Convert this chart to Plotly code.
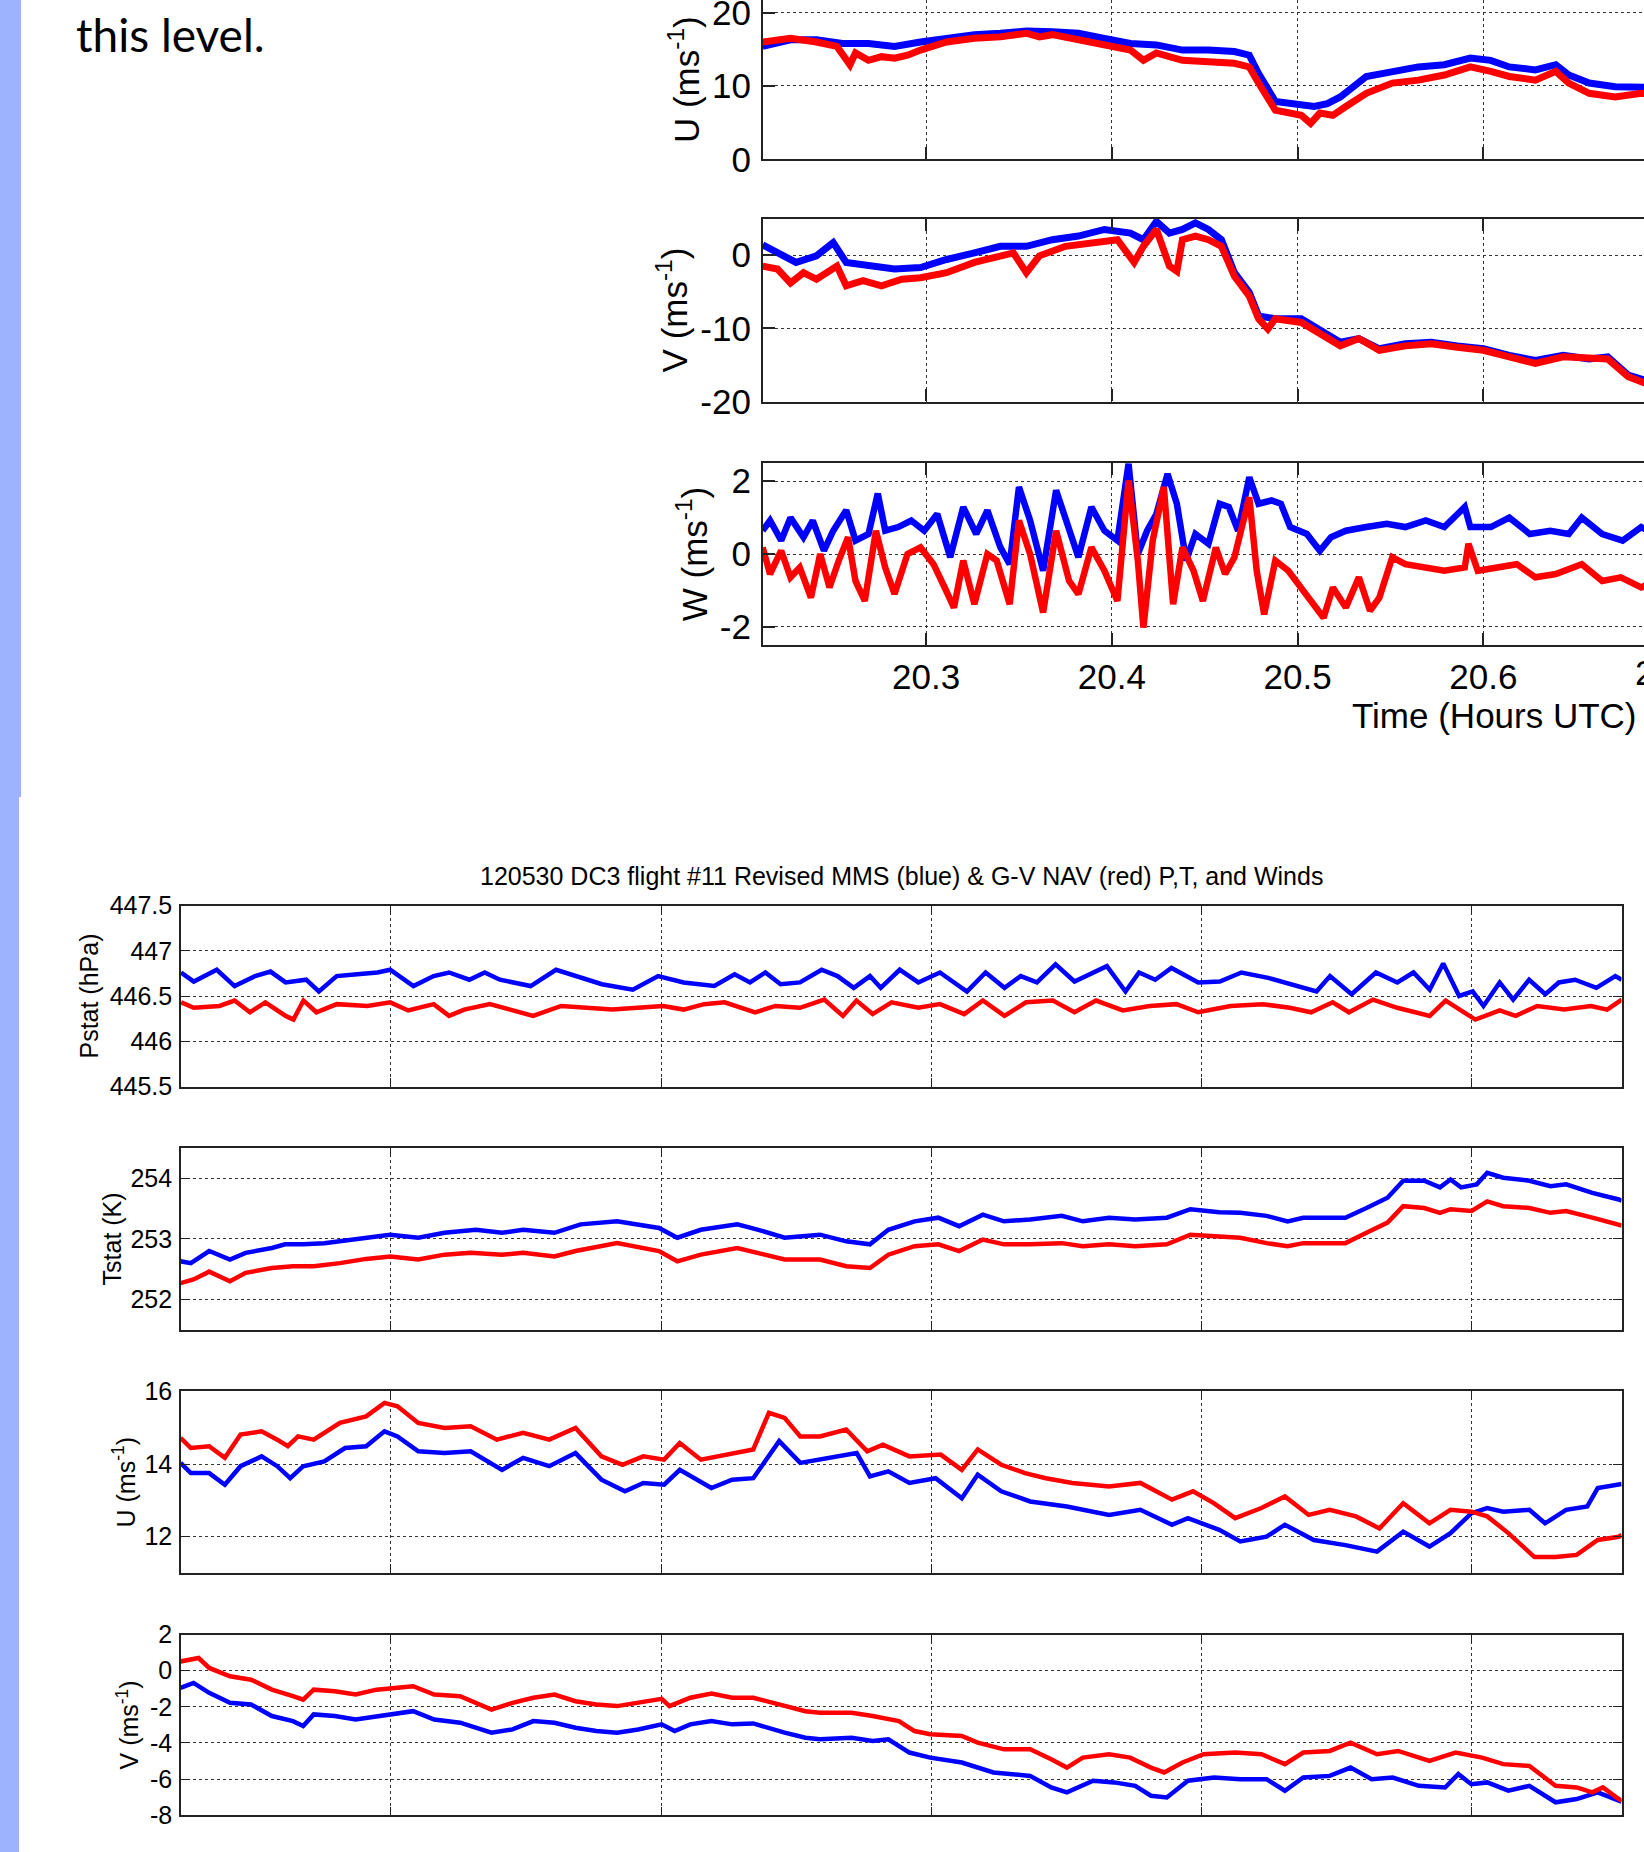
import plotly.graph_objects as go

# ---------------- Top chart (time in hours UTC) ----------------
top_u_blue_t = [20.212,20.227,20.241,20.255,20.269,20.283,20.297,20.311,20.326,20.340,20.354,20.368,20.382,20.396,20.410,20.424,20.438,20.452,20.466,20.474,20.479,20.488,20.502,20.509,20.516,20.523,20.537,20.551,20.565,20.579,20.593,20.604,20.614,20.628,20.639,20.646,20.657,20.671,20.685,20.690]
top_u_blue = [15.4,16.3,16.3,15.8,15.8,15.4,16.0,16.5,17.0,17.2,17.5,17.4,17.2,16.5,15.8,15.6,14.9,14.9,14.7,14.2,11.7,7.9,7.4,7.2,7.6,8.5,11.3,12.0,12.6,12.9,13.8,13.5,12.6,12.2,12.9,11.5,10.4,9.9,9.9,9.8]

top_u_red_t = [20.212,20.227,20.241,20.252,20.259,20.262,20.269,20.276,20.283,20.290,20.297,20.304,20.311,20.326,20.340,20.354,20.361,20.368,20.382,20.396,20.403,20.410,20.417,20.424,20.438,20.445,20.452,20.466,20.474,20.479,20.488,20.502,20.507,20.512,20.519,20.526,20.537,20.551,20.565,20.579,20.593,20.604,20.614,20.628,20.639,20.646,20.657,20.671,20.685,20.690]
top_u_red = [16.0,16.5,16.0,15.4,12.9,14.5,13.5,14.0,13.8,14.2,14.9,15.4,16.0,16.5,16.7,17.2,16.7,17.0,16.3,15.6,15.2,14.9,13.5,14.5,13.5,13.5,13.3,13.1,12.6,10.4,6.7,6.0,4.9,6.3,6.0,7.2,9.0,10.4,10.8,11.5,12.6,12.0,11.3,10.8,12.0,10.4,9.0,8.5,9.0,8.9]

top_v_blue_t = [20.212,20.220,20.230,20.241,20.250,20.257,20.269,20.283,20.297,20.311,20.326,20.340,20.354,20.368,20.382,20.396,20.410,20.417,20.424,20.431,20.438,20.445,20.452,20.459,20.466,20.474,20.479,20.488,20.502,20.516,20.523,20.533,20.544,20.558,20.572,20.586,20.600,20.614,20.628,20.643,20.657,20.667,20.678,20.690]
top_v_blue = [1.4,0.3,-1.0,-0.1,1.7,-1.0,-1.5,-1.9,-1.7,-0.6,0.3,1.2,1.2,2.1,2.6,3.5,3.0,2.1,4.6,3.0,3.5,4.4,3.5,2.1,-2.4,-5.1,-8.3,-8.7,-8.7,-11.0,-11.9,-11.4,-12.8,-12.1,-11.9,-12.4,-12.8,-13.7,-14.4,-13.7,-14.2,-13.9,-16.4,-17.3]

top_v_red_t = [20.212,20.220,20.227,20.234,20.241,20.252,20.257,20.266,20.276,20.287,20.297,20.311,20.326,20.340,20.347,20.354,20.361,20.375,20.389,20.403,20.412,20.417,20.424,20.431,20.435,20.438,20.445,20.452,20.459,20.466,20.474,20.479,20.484,20.488,20.502,20.516,20.523,20.533,20.544,20.558,20.572,20.586,20.600,20.614,20.628,20.643,20.657,20.667,20.678,20.690]
top_v_red = [-1.5,-1.9,-3.8,-2.4,-3.3,-1.5,-4.2,-3.5,-4.2,-3.3,-3.1,-2.4,-1.0,-0.1,0.3,-2.4,-0.1,1.2,1.7,2.1,-1.0,1.2,3.5,-1.5,-2.2,2.1,2.6,2.1,1.2,-2.9,-5.6,-8.7,-10.1,-8.7,-9.2,-11.4,-12.4,-11.4,-13.0,-12.4,-12.1,-12.6,-13.0,-13.9,-14.8,-13.9,-14.2,-14.2,-16.6,-17.8]

top_w_blue_t = [20.212,20.216,20.222,20.227,20.234,20.239,20.245,20.250,20.257,20.262,20.269,20.274,20.278,20.285,20.292,20.299,20.306,20.313,20.320,20.327,20.333,20.340,20.345,20.350,20.356,20.363,20.370,20.377,20.382,20.389,20.396,20.403,20.409,20.414,20.419,20.424,20.430,20.435,20.440,20.445,20.452,20.458,20.463,20.468,20.474,20.479,20.486,20.491,20.496,20.505,20.512,20.518,20.526,20.537,20.548,20.558,20.569,20.579,20.590,20.593,20.604,20.614,20.625,20.636,20.646,20.653,20.664,20.675,20.685,20.690]
top_w_blue = [0.64,0.92,0.37,1.0,0.46,0.92,0.09,0.64,1.2,0.37,0.55,1.66,0.64,0.74,0.92,0.64,1.10,-0.09,1.29,0.55,1.20,0.18,-0.28,1.84,0.92,-0.46,1.75,0.64,-0.09,1.29,0.64,0.37,2.48,0.0,0.64,1.10,2.2,1.38,-0.18,0.55,0.28,1.38,1.29,0.64,2.11,1.38,1.47,1.38,0.74,0.55,0.09,0.46,0.64,0.74,0.83,0.74,0.92,0.74,1.29,0.74,0.74,1.0,0.55,0.64,0.55,1.0,0.55,0.37,0.74,0.6]

top_w_red_t = [20.212,20.216,20.222,20.227,20.232,20.238,20.243,20.248,20.253,20.258,20.262,20.267,20.273,20.278,20.283,20.290,20.297,20.304,20.310,20.315,20.320,20.326,20.333,20.338,20.345,20.350,20.356,20.363,20.370,20.377,20.382,20.389,20.396,20.403,20.409,20.414,20.417,20.422,20.428,20.433,20.438,20.444,20.449,20.456,20.461,20.466,20.474,20.478,20.482,20.488,20.495,20.502,20.509,20.514,20.519,20.526,20.533,20.539,20.544,20.551,20.558,20.569,20.579,20.590,20.592,20.597,20.607,20.618,20.628,20.639,20.653,20.664,20.674,20.685,20.690]
top_w_red = [0.18,-0.55,0.09,-0.64,-0.37,-1.2,0.0,-0.92,-0.18,0.46,-0.74,-1.29,0.64,-0.37,-1.1,0.0,0.18,-0.28,-0.92,-1.47,-0.18,-1.38,0.0,-0.18,-1.38,0.92,0.0,-1.61,0.64,-0.74,-1.1,0.18,-0.46,-1.29,2.02,-0.18,-2.02,0.37,1.84,-1.38,0.18,-0.46,-1.29,0.18,-0.55,-0.09,1.56,-0.46,-1.66,-0.18,-0.46,-0.92,-1.38,-1.75,-0.92,-1.47,-0.64,-1.56,-1.2,-0.09,-0.28,-0.37,-0.46,-0.37,0.28,-0.46,-0.37,-0.28,-0.64,-0.55,-0.28,-0.74,-0.64,-0.92,-0.8]

top_x_ticks = [20.3, 20.4, 20.5, 20.6]

# ---------------- Bottom chart (time, grid units) ----------------
p_blue_t = [0.223,0.270,0.355,0.421,0.497,0.554,0.610,0.686,0.733,0.799,0.875,0.950,0.997,1.083,1.158,1.215,1.290,1.347,1.403,1.517,1.611,1.687,1.781,1.895,1.989,2.083,2.197,2.272,2.329,2.386,2.442,
            2.514,2.594,2.653,2.713,2.773,2.813,2.883,2.952,3.032,3.132,3.201,3.271,3.331,3.391,3.460,3.530,3.650,3.719,3.769,3.829,3.889,3.988,4.068,4.148,4.247,4.347,4.426,4.476,4.556,4.646,4.725,4.785,4.845,4.895,4.954,5.004,5.044,5.104,5.154,5.213,5.273,5.323,5.383,5.462,5.532,5.556]
p_blue = [446.76,446.66,446.79,446.61,446.72,446.77,446.65,446.68,446.55,446.72,446.74,446.76,446.79,446.61,446.72,446.76,446.68,446.76,446.68,446.61,446.79,446.72,446.63,446.57,446.72,446.65,446.61,446.74,446.65,446.76,446.63,
          446.65,446.79,446.72,446.59,446.72,446.59,446.79,446.65,446.76,446.55,446.76,446.59,446.72,446.65,446.85,446.66,446.83,446.55,446.76,446.68,446.81,446.65,446.66,446.76,446.70,446.61,446.55,446.72,446.52,446.76,446.65,446.76,446.57,446.86,446.50,446.55,446.39,446.65,446.46,446.68,446.52,446.65,446.68,446.59,446.72,446.68]

p_red_t = [0.223,0.270,0.365,0.421,0.478,0.535,0.610,0.639,0.676,0.724,0.799,0.913,0.997,1.064,1.158,1.215,1.271,1.366,1.441,1.526,1.630,1.743,1.819,1.913,2.008,2.083,2.159,2.235,2.291,2.348,2.423,
           2.514,2.604,2.673,2.723,2.783,2.853,2.952,3.032,3.122,3.191,3.271,3.351,3.450,3.530,3.610,3.709,3.809,3.908,3.988,4.108,4.227,4.327,4.406,4.486,4.546,4.635,4.725,4.845,4.904,5.014,5.104,5.163,5.243,5.343,5.442,5.502,5.556]
p_red = [446.43,446.37,446.39,446.45,446.32,446.43,446.28,446.24,446.45,446.32,446.41,446.39,446.43,446.34,446.41,446.28,446.35,446.41,446.35,446.28,446.39,446.37,446.35,446.37,446.39,446.35,446.41,446.43,446.37,446.32,446.39,
         446.37,446.46,446.28,446.45,446.30,446.43,446.37,446.41,446.30,446.45,446.28,446.43,446.45,446.32,446.45,446.34,446.39,446.41,446.32,446.39,446.41,446.37,446.32,446.43,446.32,446.46,446.37,446.28,446.45,446.24,446.34,446.28,446.39,446.35,446.39,446.35,446.46]

t_blue_t = [0.221,0.259,0.327,0.404,0.462,0.559,0.608,0.675,0.753,0.869,0.997,1.101,1.198,1.314,1.411,1.489,1.605,1.702,1.837,1.992,2.060,2.147,2.282,2.360,2.457,
            2.588,2.685,2.773,2.841,2.938,3.026,3.103,3.191,3.269,3.366,3.483,3.561,3.658,3.755,3.872,3.959,4.066,4.144,4.241,4.319,4.377,4.533,4.611,4.689,4.747,4.825,4.883,4.922,4.961,5.019,5.058,5.117,5.214,5.292,5.350,5.447,5.545,5.556]
t_blue = [252.63,252.60,252.80,252.66,252.77,252.85,252.91,252.91,252.93,252.99,253.07,253.02,253.10,253.15,253.10,253.15,253.10,253.24,253.29,253.18,253.02,253.15,253.24,253.15,253.02,
          253.07,252.96,252.91,253.15,253.29,253.35,253.21,253.40,253.29,253.32,253.38,253.29,253.35,253.32,253.35,253.49,253.44,253.43,253.38,253.29,253.35,253.35,253.51,253.68,253.96,253.96,253.85,253.98,253.85,253.90,254.09,254.01,253.96,253.87,253.90,253.76,253.65,253.63]

t_red_t = [0.221,0.269,0.327,0.404,0.462,0.559,0.637,0.714,0.811,0.908,0.997,1.101,1.198,1.295,1.411,1.489,1.605,1.683,1.837,1.992,2.060,2.147,2.282,2.360,2.457,
           2.588,2.685,2.773,2.841,2.938,3.026,3.103,3.191,3.269,3.366,3.483,3.561,3.658,3.755,3.872,3.959,4.066,4.144,4.241,4.319,4.377,4.533,4.611,4.689,4.747,4.825,4.883,4.922,5.000,5.058,5.117,5.214,5.292,5.350,5.447,5.545,5.556]
t_red = [252.27,252.33,252.46,252.30,252.44,252.52,252.55,252.55,252.60,252.67,252.71,252.66,252.74,252.77,252.74,252.77,252.71,252.80,252.93,252.80,252.63,252.74,252.85,252.77,252.66,
         252.66,252.55,252.52,252.74,252.88,252.91,252.80,252.99,252.91,252.91,252.93,252.88,252.91,252.88,252.91,253.07,253.04,253.02,252.93,252.88,252.93,252.93,253.10,253.27,253.54,253.51,253.43,253.49,253.46,253.62,253.54,253.51,253.43,253.46,253.35,253.24,253.22]

u_blue_t = [0.221,0.259,0.327,0.385,0.443,0.521,0.579,0.627,0.675,0.753,0.830,0.908,0.976,1.024,1.101,1.198,1.295,1.411,1.489,1.586,1.683,1.779,1.866,1.934,2.011,2.069,2.186,2.263,2.341,2.437,2.515,
            2.588,2.685,2.724,2.773,2.841,2.919,3.016,3.113,3.172,3.259,3.366,3.502,3.658,3.774,3.891,3.950,4.066,4.144,4.241,4.309,4.416,4.533,4.650,4.747,4.844,4.922,5.000,5.058,5.117,5.214,5.272,5.350,5.428,5.467,5.545,5.556]
u_blue = [14.03,13.75,13.75,13.43,13.94,14.21,13.94,13.61,13.94,14.07,14.44,14.49,14.90,14.76,14.35,14.30,14.35,13.84,14.17,13.94,14.30,13.57,13.25,13.48,13.43,13.84,13.34,13.57,13.61,14.63,14.03,
          14.12,14.26,14.30,13.66,13.80,13.48,13.61,13.06,13.71,13.25,12.97,12.83,12.60,12.74,12.33,12.51,12.19,11.87,12.00,12.33,11.91,11.77,11.59,12.14,11.73,12.10,12.65,12.79,12.69,12.74,12.37,12.74,12.83,13.34,13.43,13.45]

u_red_t = [0.221,0.259,0.327,0.385,0.443,0.521,0.579,0.618,0.656,0.714,0.811,0.908,0.976,1.024,1.101,1.198,1.295,1.392,1.489,1.586,1.683,1.779,1.857,1.934,2.011,2.069,2.147,2.263,2.341,2.399,2.457,2.515,
           2.588,2.685,2.763,2.821,2.919,3.035,3.113,3.172,3.259,3.347,3.424,3.522,3.658,3.774,3.891,3.969,4.047,4.125,4.222,4.309,4.397,4.475,4.572,4.659,4.747,4.844,4.922,5.000,5.058,5.136,5.233,5.311,5.389,5.467,5.545,5.556]
u_red = [14.72,14.44,14.49,14.17,14.81,14.90,14.67,14.49,14.76,14.67,15.13,15.31,15.68,15.59,15.13,14.99,15.04,14.67,14.86,14.67,14.99,14.21,13.98,14.21,14.12,14.58,14.12,14.30,14.40,15.41,15.27,14.76,
         14.76,14.95,14.35,14.53,14.21,14.26,13.84,14.40,13.98,13.75,13.61,13.48,13.38,13.48,13.02,13.25,12.92,12.51,12.79,13.11,12.60,12.74,12.56,12.23,12.92,12.37,12.74,12.69,12.56,12.10,11.44,11.44,11.50,11.91,12.00,12.05]

v_blue_t = [0.221,0.269,0.327,0.404,0.482,0.559,0.637,0.675,0.714,0.792,0.869,0.947,1.024,1.082,1.160,1.256,1.372,1.450,1.527,1.605,1.683,1.760,1.837,1.915,2.002,2.050,2.108,2.186,2.263,2.341,2.457,2.534,
            2.588,2.705,2.783,2.841,2.919,2.996,3.113,3.230,3.366,3.444,3.502,3.599,3.677,3.755,3.813,3.872,3.950,4.047,4.144,4.241,4.309,4.377,4.475,4.552,4.630,4.708,4.805,4.902,4.951,4.999,5.058,5.136,5.214,5.311,5.389,5.467,5.545,5.556]
v_blue = [-0.95,-0.68,-1.23,-1.78,-1.87,-2.51,-2.79,-3.06,-2.42,-2.51,-2.70,-2.51,-2.33,-2.24,-2.70,-2.88,-3.43,-3.25,-2.79,-2.88,-3.16,-3.34,-3.43,-3.25,-2.97,-3.34,-2.97,-2.79,-2.97,-2.92,-3.43,-3.71,
          -3.80,-3.71,-3.89,-3.80,-4.53,-4.81,-5.08,-5.63,-5.82,-6.46,-6.73,-6.09,-6.18,-6.37,-6.92,-7.01,-6.09,-5.91,-6.00,-6.00,-6.64,-5.91,-5.82,-5.36,-6.00,-5.91,-6.37,-6.46,-5.72,-6.28,-6.18,-6.64,-6.37,-7.28,-7.10,-6.73,-7.19,-7.25]

v_red_t = [0.221,0.288,0.327,0.404,0.482,0.521,0.559,0.637,0.675,0.714,0.792,0.869,0.947,1.024,1.082,1.160,1.256,1.372,1.450,1.527,1.605,1.683,1.760,1.837,1.915,2.002,2.031,2.108,2.186,2.263,2.341,2.457,2.534,
           2.588,2.705,2.783,2.880,2.938,2.996,3.113,3.172,3.269,3.366,3.444,3.502,3.561,3.658,3.736,3.813,3.862,3.930,4.008,4.125,4.222,4.309,4.377,4.475,4.552,4.650,4.728,4.844,4.941,5.039,5.117,5.214,5.311,5.389,5.447,5.486,5.545,5.556]
v_red = [0.51,0.70,0.15,-0.31,-0.50,-0.77,-1.05,-1.41,-1.60,-1.05,-1.14,-1.32,-1.05,-0.95,-0.86,-1.32,-1.41,-2.15,-1.78,-1.50,-1.32,-1.69,-1.87,-1.96,-1.78,-1.56,-1.96,-1.50,-1.27,-1.50,-1.50,-1.96,-2.24,
         -2.33,-2.33,-2.51,-2.79,-3.34,-3.52,-3.61,-3.98,-4.35,-4.35,-4.90,-5.36,-4.81,-4.62,-4.81,-5.36,-5.63,-5.08,-4.62,-4.53,-4.62,-5.17,-4.53,-4.44,-3.98,-4.62,-4.44,-4.99,-4.53,-4.81,-5.17,-5.27,-6.37,-6.46,-6.73,-6.46,-7.10,-7.20]

bottom_x_ticks = [1, 2, 3, 4, 5]
title_text = "120530 DC3 flight #11 Revised MMS (blue) & G-V NAV (red) P,T, and Winds"

BLUE = "#0000ff"
RED = "#ff0000"
FONT = "Liberation Sans, Arial, Helvetica, sans-serif"
H = 1852.0
W = 1644.0

fig = go.Figure()

panels = [
    (1, top_u_blue_t, top_u_blue, top_u_red_t, top_u_red, 7),
    (2, top_v_blue_t, top_v_blue, top_v_red_t, top_v_red, 7),
    (3, top_w_blue_t, top_w_blue, top_w_red_t, top_w_red, 6.5),
    (4, p_blue_t, p_blue, p_red_t, p_red, 4.5),
    (5, t_blue_t, t_blue, t_red_t, t_red, 4.5),
    (6, u_blue_t, u_blue, u_red_t, u_red, 4.5),
    (7, v_blue_t, v_blue, v_red_t, v_red, 4.5),
]
for idx, bt, bv, rt, rv, lw in panels:
    ax = "" if idx == 1 else str(idx)
    fig.add_trace(go.Scatter(x=bt, y=bv, mode="lines", line=dict(color=BLUE, width=lw),
                             xaxis="x" + ax, yaxis="y" + ax, showlegend=False, hoverinfo="skip"))
    fig.add_trace(go.Scatter(x=rt, y=rv, mode="lines", line=dict(color=RED, width=lw),
                             xaxis="x" + ax, yaxis="y" + ax, showlegend=False, hoverinfo="skip"))

def pyd(top_px, bot_px):
    return [1 - bot_px / H, 1 - top_px / H]

top_xdom = [763 / W, 1.0]
bot_xdom = [181 / W, 1621.5 / W]
top_xrange = [20.2122, 20.6865]
bot_xrange = [0.2227, 5.555]

grid = dict(showgrid=True, gridcolor="#333", griddash="dot", gridwidth=1, zeroline=False)

def xaxis(dom, rng, tv, anchor, mirror, labels, lw, tl, fs):
    return dict(domain=dom, range=rng, tickmode="array", tickvals=tv, anchor=anchor,
                showline=True, linecolor="#222", linewidth=lw, mirror=mirror,
                ticks="inside", ticklen=tl, tickwidth=lw * 0.8, tickcolor="#222",
                showticklabels=labels, tickfont=dict(family=FONT, size=fs, color="black"),
                ticklabeloverflow="allow",
                automargin=False, fixedrange=True, **grid)

def yaxis(dom, rng, tv, tt, anchor, mirror, lw, tl, fs, title, standoff, tso):
    return dict(domain=dom, range=rng, tickmode="array", tickvals=tv, ticktext=tt, anchor=anchor,
                showline=True, linecolor="#222", linewidth=lw, mirror=mirror,
                ticks="inside", ticklen=tl, tickwidth=lw * 0.8, tickcolor="#222",
                ticklabelstandoff=tso, ticklabeloverflow="allow",
                tickfont=dict(family=FONT, size=fs, color="black"),
                title=dict(text=title, font=dict(family=FONT, size=fs, color="black"), standoff=standoff),
                automargin=False, fixedrange=True, **grid)

TFS = 35
BFS = 25
layout = dict(
    width=1644, height=1852, autosize=False, paper_bgcolor="white", plot_bgcolor="white",
    margin=dict(l=0, r=0, t=0, b=0, pad=0, autoexpand=False), showlegend=False,
    xaxis=xaxis(top_xdom, top_xrange, top_x_ticks, "y", False, False, 2.2, 12, TFS),
    yaxis=yaxis(pyd(0, 159.3), [0, 21.73], [0, 10, 20], ["0", "10", "20"], "x", False, 2.2, 12, TFS,
                "U (ms<sup>-1</sup>)", 2, 3),
    xaxis2=xaxis(top_xdom, top_xrange, top_x_ticks, "y2", "allticks", False, 2.2, 12, TFS),
    yaxis2=yaxis(pyd(218.5, 401.5), [-20, 5], [-20, -10, 0], ["-20", "-10", "0"], "x2", False, 2.2, 12, TFS,
                 "V (ms<sup>-1</sup>)", 2, 3),
    xaxis3=xaxis(top_xdom, top_xrange, top_x_ticks, "y3", "allticks", True, 2.2, 12, TFS),
    yaxis3=yaxis(pyd(463, 645), [-2.5, 2.5], [-2, 0, 2], ["-2", "0", "2"], "x3", False, 2.2, 12, TFS,
                 "W (ms<sup>-1</sup>)", 2, 3),
    xaxis4=xaxis(bot_xdom, bot_xrange, bottom_x_ticks, "y4", "allticks", False, 1.6, 9, BFS),
    yaxis4=yaxis(pyd(905.5, 1086.5), [445.5, 447.5], [445.5, 446, 446.5, 447, 447.5],
                 ["445.5", "446", "446.5", "447", "447.5"], "x4", "allticks", 1.6, 9, BFS, "Pstat (hPa)", 4, 2),
    xaxis5=xaxis(bot_xdom, bot_xrange, bottom_x_ticks, "y5", "allticks", False, 1.6, 9, BFS),
    yaxis5=yaxis(pyd(1148, 1329.8), [251.5, 254.5], [252, 253, 254], ["252", "253", "254"],
                 "x5", "allticks", 1.6, 9, BFS, "Tstat (K)", 2, 2),
    xaxis6=xaxis(bot_xdom, bot_xrange, bottom_x_ticks, "y6", "allticks", False, 1.6, 9, BFS),
    yaxis6=yaxis(pyd(1391.3, 1573.1), [11, 16], [12, 14, 16], ["12", "14", "16"],
                 "x6", "allticks", 1.6, 9, BFS, "U (ms<sup>-1</sup>)", 2, 2),
    xaxis7=xaxis(bot_xdom, bot_xrange, bottom_x_ticks, "y7", "allticks", False, 1.6, 9, BFS),
    yaxis7=yaxis(pyd(1634.5, 1815.3), [-8, 2], [-8, -6, -4, -2, 0, 2], ["-8", "-6", "-4", "-2", "0", "2"],
                 "x7", "allticks", 1.6, 9, BFS, "V (ms<sup>-1</sup>)", 4, 2),
)
fig.update_layout(**layout)

fig.add_shape(type="rect", xref="paper", yref="paper", x0=0, x1=21 / W, y0=1 - 797 / H, y1=1,
              fillcolor="#9db3fd", line=dict(width=0), layer="below")
fig.add_shape(type="rect", xref="paper", yref="paper", x0=0, x1=19 / W, y0=0, y1=1 - 797 / H,
              fillcolor="#9db3fd", line=dict(width=0), layer="below")

annos = [
    dict(text="this level.", x=74 / W, y=1 - 34 / H, xref="paper", yref="paper", xanchor="left",
         yanchor="middle", showarrow=False, font=dict(family="Lato, Open Sans, sans-serif", size=46, color="black")),
    dict(text="Time (Hours UTC)", x=1494 / W, y=1 - 716 / H, xref="paper", yref="paper", xanchor="center",
         yanchor="middle", showarrow=False, font=dict(family=FONT, size=TFS, color="black")),
    dict(text="20.7", x=1669 / W, y=1 - 672.7 / H, xref="paper", yref="paper", xanchor="center",
         yanchor="middle", showarrow=False, font=dict(family=FONT, size=TFS, color="black")),
    dict(text=title_text, x=(181 + 1621.5) / 2 / W, y=1 - 876 / H, xref="paper", yref="paper", xanchor="center",
         yanchor="middle", showarrow=False, font=dict(family=FONT, size=BFS, color="black")),
]
fig.update_layout(annotations=annos)

fig.write_html("out.html", config={"displayModeBar": False, "responsive": False},
               post_script="document.body.style.margin='0';document.body.style.padding='0';"
                           "document.body.style.overflow='hidden';")
